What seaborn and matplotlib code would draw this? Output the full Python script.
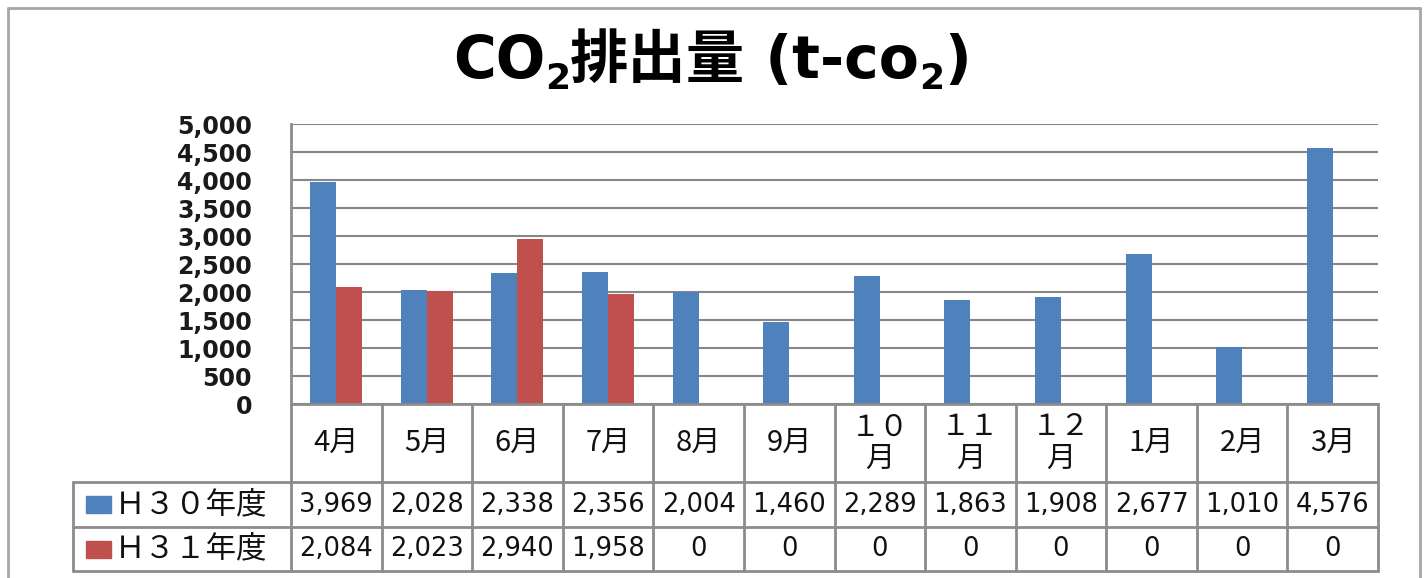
import matplotlib
matplotlib.use('Agg')
import matplotlib.pyplot as plt
import matplotlib.transforms as mtransforms
from matplotlib.patches import Rectangle
import pandas as pd
import seaborn as sns

# data
months = ['4月', '5月', '6月', '7月', '8月', '9月', '10月', '11月', '12月', '1月', '2月', '3月']
month_labels = ['4月', '5月', '6月', '7月', '8月', '9月', '１０\n月', '１１\n月', '１２\n月', '1月', '2月', '3月']
series_names = ['Ｈ３０年度', 'Ｈ３１年度']
h30 = [3969, 2028, 2338, 2356, 2004, 1460, 2289, 1863, 1908, 2677, 1010, 4576]
h31 = [2084, 2023, 2940, 1958, 0, 0, 0, 0, 0, 0, 0, 0]
yticks = [0, 500, 1000, 1500, 2000, 2500, 3000, 3500, 4000, 4500, 5000]
colors = ['#4F81BD', '#C0504D']

JP = ['Noto Sans CJK JP', 'DejaVu Sans']
NUM = ['DejaVu Sans', 'Noto Sans CJK JP']
LINE = '#8c8c8c'


def draw_title(fig, pieces, base_y, size):
    # place text pieces side by side, subscripts lowered, then center the lot
    r = fig.canvas.get_renderer()
    texts = []
    for s, sub in pieces:
        t = fig.text(0, base_y - (11 if sub else 0), s,
                     fontsize=size * 0.62 if sub else size, fontweight='bold',
                     family=NUM, va='baseline', ha='left', color='#000000',
                     transform=mtransforms.IdentityTransform())
        texts.append(t)
    widths = [t.get_window_extent(r).width for t in texts]
    x = (fig.bbox.width - sum(widths)) / 2
    for t, w in zip(texts, widths):
        t.set_x(x)
        x += w


def main():
    sns.set_style('white')
    plt.rcParams['font.family'] = JP

    df = pd.DataFrame({
        'month': months * 2,
        'value': h30 + h31,
        'series': [series_names[0]] * 12 + [series_names[1]] * 12,
    })

    fig = plt.figure(figsize=(14.24, 5.78), dpi=100)
    ax = fig.add_axes([291 / 1424, 174 / 578, 1087 / 1424, 280 / 578])

    sns.barplot(data=df, x='month', y='value', hue='series', order=months,
                hue_order=series_names, palette=colors, saturation=1,
                width=0.574, linewidth=0, legend=False, ax=ax)

    ax.set_xlim(-0.5, 11.5)
    ax.set_ylim(0, 5000)
    ax.set_xticks([])
    ax.set_xlabel('')
    ax.set_ylabel('')
    ax.set_yticks(yticks)
    ax.set_yticklabels([f'{v:,}' for v in yticks], fontsize=17,
                       fontweight='bold', family=NUM, color='#1a1a1a')
    ax.tick_params(axis='y', length=0, pad=28)
    ax.set_axisbelow(True)
    ax.yaxis.grid(True, color='#868686', lw=1.5)
    for side in ['top', 'right']:
        ax.spines[side].set_visible(False)
    for side in ['left', 'bottom']:
        ax.spines[side].set_color(LINE)
        ax.spines[side].set_linewidth(2)

    # data table under the plot
    trans = mtransforms.blended_transform_factory(ax.transData, ax.transAxes)
    row_y = [0, -0.2786, -0.4393, -0.5964]
    left = -0.2006
    for k in range(13):
        ax.plot([k - 0.5, k - 0.5], [0, row_y[-1]], transform=trans,
                color=LINE, lw=2, clip_on=False)
    for y in row_y[1:]:
        ax.plot([left, 1], [y, y], transform=ax.transAxes, color=LINE, lw=2,
                clip_on=False)
    ax.plot([left, left], [row_y[1], row_y[-1]], transform=ax.transAxes,
            color=LINE, lw=2, clip_on=False)

    for i, lab in enumerate(month_labels):
        ax.text(i, (row_y[0] + row_y[1]) / 2, lab, transform=trans,
                ha='center', va='center', fontsize=21, family=JP,
                linespacing=1.05, color='#111111')

    for r, vals in enumerate([h30, h31]):
        yc = (row_y[r + 1] + row_y[r + 2]) / 2
        for i, v in enumerate(vals):
            ax.text(i, yc, f'{v:,}', transform=trans, ha='center',
                    va='center', fontsize=18.5, family=NUM, color='#111111')
        ax.add_patch(Rectangle((-0.1886, yc - 0.032), 0.023, 0.062,
                               transform=ax.transAxes, color=colors[r],
                               clip_on=False))
        ax.text(-0.1619, yc, series_names[r], transform=ax.transAxes,
                ha='left', va='center', fontsize=22, family=JP,
                color='#111111')

    # outer chart frame
    for xs, ys in [([8, 8], [0, 570]), ([8, 1420], [570, 570]),
                   ([1420, 1420], [0, 570])]:
        fig.add_artist(plt.Line2D([x / 1424 for x in xs], [y / 578 for y in ys],
                                  color='#a6a6a6', lw=2))

    draw_title(fig, [('CO', 0), ('2', 1), ('排出量', 0), (' (t-co', 0),
                     ('2', 1), (')', 0)], 500, 42)

    fig.savefig('out.png', dpi=100)


if __name__ == '__main__':
    main()
